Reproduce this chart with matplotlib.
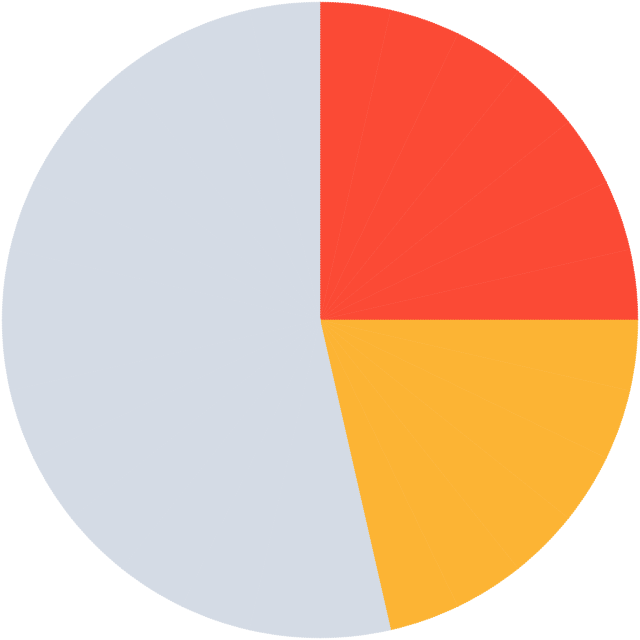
import matplotlib
matplotlib.use("Agg")
import matplotlib.pyplot as plt

# 28 equal slices: 7 red, 6 orange, 15 grey
groups = ["red", "orange", "grey"]
group_counts = [7, 6, 15]
group_colors = {"red": "#FB4A35", "orange": "#FCB434", "grey": "#D4DBE5"}

values = []
colors = []
for g, n in zip(groups, group_counts):
    values += [1] * n
    colors += [group_colors[g]] * n

fig = plt.figure(figsize=(6.4, 6.4), dpi=100)
ax = fig.add_axes([0, 0, 1, 1])
wedges, _ = ax.pie(values, colors=colors, startangle=90, counterclock=False, radius=1)
# stroke each wedge in its own colour to hide antialias seams, faint dashed separators
for w in wedges:
    w.set_edgecolor(w.get_facecolor())
    w.set_linewidth(0.6)
    w.set_linestyle((0, (2, 1)))
ax.set_xlim(-1.007, 1.007)
ax.set_ylim(-1.007, 1.007)
ax.set_aspect("equal")
ax.axis("off")

fig.savefig("out.png", dpi=100)
plt.close(fig)
